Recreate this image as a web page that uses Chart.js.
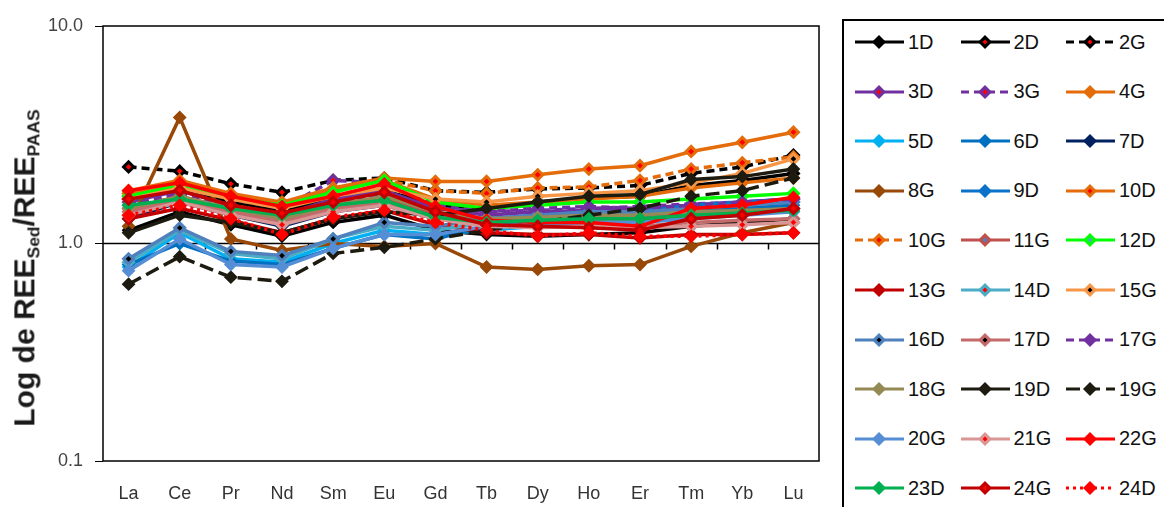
<!DOCTYPE html>
<html>
<head>
<meta charset="utf-8">
<script src="https://cdn.jsdelivr.net/npm/chart.js@4.4.0/dist/chart.umd.min.js"></script>
<style>
html, body { margin: 0; padding: 0; background: #fff; overflow: hidden; width: 1164px; height: 507px; font-family: Arial, "Liberation Sans", sans-serif; }
#wrap { position: absolute; left: 0; top: 0; width: 842px; height: 507px; }
#ytitle { position: absolute; left: 26px; top: 268px; transform: translate(-50%, -50%) rotate(-90deg); white-space: nowrap; font-weight: bold; font-size: 30px; color: #1a1a1a; }
#ytitle sub { font-size: 58%; vertical-align: -0.3em; }
#leyenda { position: absolute; left: 842px; top: 19px; width: 340px; height: 510px; border: 2px solid #000; box-sizing: border-box; }
.item { position: absolute; display: flex; align-items: center; font-size: 20px; color: #111; height: 20px; }
.item svg { margin-right: 4px; }
</style>
</head>
<body>
<div id="wrap"><canvas id="grafico" width="842" height="507"></canvas></div>
<div id="ytitle">Log de REE<sub>Sed</sub>/REE<sub>PAAS</sub></div>
<div id="leyenda"></div>
<script>
// Elementos de tierras raras (eje X)
const categorias = ['La', 'Ce', 'Pr', 'Nd', 'Sm', 'Eu', 'Gd', 'Tb', 'Dy', 'Ho', 'Er', 'Tm', 'Yb', 'Lu'];
const ticksY = [0.1, 1, 10];

// Valores normalizados a PAAS, uno por muestra
const m1D  = [1.15, 1.40, 1.22, 1.08, 1.25, 1.35, 1.15, 1.10, 1.08, 1.10, 1.12, 1.20, 1.25, 1.30];
const m2D  = [1.60, 1.80, 1.55, 1.42, 1.60, 1.75, 1.50, 1.45, 1.55, 1.62, 1.65, 1.85, 1.95, 2.10];
const m2G  = [2.25, 2.15, 1.88, 1.72, 1.95, 2.00, 1.75, 1.72, 1.78, 1.80, 1.85, 2.10, 2.25, 2.55];
const m3D  = [1.55, 1.75, 1.50, 1.35, 1.60, 1.75, 1.45, 1.35, 1.40, 1.42, 1.45, 1.50, 1.55, 1.60];
const m3G  = [1.65, 1.85, 1.60, 1.45, 1.95, 1.90, 1.50, 1.40, 1.42, 1.45, 1.48, 1.52, 1.55, 1.60];
const m4G  = [1.70, 1.90, 1.65, 1.50, 1.75, 1.95, 1.60, 1.50, 1.55, 1.60, 1.65, 1.80, 1.90, 2.00];
const m5D  = [0.78, 1.12, 0.85, 0.82, 1.00, 1.15, 1.10, 1.15, 1.20, 1.25, 1.25, 1.35, 1.35, 1.45];
const m6D  = [0.80, 1.00, 0.83, 0.80, 0.95, 1.10, 1.05, 1.20, 1.25, 1.30, 1.30, 1.40, 1.45, 1.50];
const m7D  = [1.30, 1.55, 1.35, 1.20, 1.40, 1.50, 1.30, 1.25, 1.30, 1.35, 1.35, 1.45, 1.50, 1.55];
const m8G  = [1.20, 3.80, 1.05, 0.93, 1.00, 0.97, 1.00, 0.78, 0.76, 0.79, 0.80, 0.97, 1.12, 1.25];
const m9D  = [1.35, 1.60, 1.40, 1.25, 1.45, 1.55, 1.35, 1.30, 1.35, 1.40, 1.40, 1.50, 1.55, 1.60];
const m10D = [1.75, 1.95, 1.70, 1.55, 1.80, 2.00, 1.93, 1.93, 2.07, 2.20, 2.28, 2.65, 2.92, 3.25];
const m10G = [1.70, 1.90, 1.65, 1.50, 1.75, 1.95, 1.75, 1.70, 1.80, 1.82, 1.95, 2.20, 2.35, 2.50];
const m11G = [1.45, 1.65, 1.45, 1.30, 1.50, 1.60, 1.35, 1.25, 1.30, 1.30, 1.30, 1.35, 1.40, 1.45];
const m12D = [1.65, 1.85, 1.62, 1.50, 1.72, 1.95, 1.55, 1.45, 1.50, 1.55, 1.55, 1.60, 1.65, 1.70];
const m13G = [1.30, 1.45, 1.28, 1.12, 1.30, 1.42, 1.22, 1.12, 1.10, 1.10, 1.06, 1.10, 1.10, 1.12];
const m14D = [0.82, 1.15, 0.90, 0.85, 1.05, 1.20, 1.15, 1.25, 1.30, 1.35, 1.35, 1.45, 1.50, 1.55];
const m15G = [1.60, 1.80, 1.60, 1.45, 1.65, 1.80, 1.60, 1.55, 1.65, 1.70, 1.75, 1.90, 2.10, 2.45];
const m16D = [0.85, 1.18, 0.92, 0.88, 1.05, 1.25, 1.20, 1.30, 1.35, 1.40, 1.40, 1.45, 1.50, 1.55];
const m17D = [1.40, 1.60, 1.40, 1.25, 1.45, 1.55, 1.30, 1.20, 1.22, 1.22, 1.20, 1.25, 1.28, 1.30];
const m17G = [1.50, 1.70, 1.50, 1.35, 1.55, 1.70, 1.45, 1.40, 1.45, 1.48, 1.45, 1.50, 1.55, 1.60];
const m18G = [1.45, 1.65, 1.45, 1.30, 1.50, 1.65, 1.40, 1.30, 1.32, 1.35, 1.35, 1.40, 1.42, 1.45];
const m19D = [1.12, 1.35, 1.25, 1.12, 1.30, 1.40, 1.35, 1.45, 1.55, 1.65, 1.68, 1.97, 2.03, 2.20];
const m19G = [0.65, 0.87, 0.70, 0.67, 0.90, 0.96, 1.05, 1.15, 1.25, 1.35, 1.45, 1.65, 1.75, 2.00];
const m20G = [0.75, 1.05, 0.80, 0.78, 0.95, 1.10, 1.10, 1.20, 1.22, 1.25, 1.25, 1.30, 1.35, 1.40];
const m21G = [1.35, 1.55, 1.35, 1.22, 1.40, 1.50, 1.30, 1.20, 1.18, 1.20, 1.18, 1.20, 1.22, 1.25];
const m22G = [1.75, 1.90, 1.65, 1.48, 1.65, 1.88, 1.48, 1.28, 1.25, 1.25, 1.20, 1.45, 1.50, 1.63];
const m23D = [1.50, 1.60, 1.45, 1.35, 1.50, 1.58, 1.32, 1.25, 1.28, 1.30, 1.30, 1.35, 1.38, 1.42];
const m24G = [1.60, 1.75, 1.50, 1.38, 1.55, 1.72, 1.40, 1.22, 1.20, 1.18, 1.15, 1.30, 1.35, 1.45];
const m24D = [1.35, 1.50, 1.30, 1.10, 1.32, 1.42, 1.25, 1.15, 1.08, 1.12, 1.08, 1.08, 1.10, 1.12];

// Muestras en el orden de la leyenda
const muestras = ['1D', '2D', '2G', '3D', '3G', '4G', '5D', '6D', '7D', '8G', '9D', '10D', '10G', '11G', '12D',
                  '13G', '14D', '15G', '16D', '17D', '17G', '18G', '19D', '19G', '20G', '21G', '22G', '23D', '24G', '24D'];
const valores = [m1D, m2D, m2G, m3D, m3G, m4G, m5D, m6D, m7D, m8G, m9D, m10D, m10G, m11G, m12D,
                 m13G, m14D, m15G, m16D, m17D, m17G, m18G, m19D, m19G, m20G, m21G, m22G, m23D, m24G, m24D];

// Estilo de cada serie
const colores = ['#000000', '#000000', '#000000', '#7030A0', '#7030A0', '#E46C0A', '#00B0F0', '#0070C0', '#002060', '#984807',
                 '#0A72C8', '#E46C0A', '#E46C0A', '#C0504D', '#00FF00', '#C00000', '#4BACC6', '#F79646', '#4F81BD', '#C46A6A',
                 '#7030A0', '#948A54', '#1D1B10', '#1D1B10', '#558ED5', '#D99694', '#FF0000', '#00B050', '#C00000', '#FF0000'];
const puntos =  [null, '#FF0000', '#FF0000', '#FF0000', '#FF0000', null, null, null, null, null,
                 null, '#FF0000', '#FF0000', '#4F81BD', '#4BACC6', null, '#FF0000', '#000000', '#000000', '#000000',
                 null, null, null, null, null, '#FF0000', null, null, '#FF0000', null];
const trazos = ['', '', 'g', '', 'g', '', '', '', '', '', '', '', 'g', '', '', '', '', '', '', '', 'g', '', '', 'l', '', '', '', '', '', 'p'];
const patrones = { '': [], g: [8, 5], l: [14, 6], p: [3, 4] };

const conjuntos = muestras.map((m, i) => ({
    label: m,
    data: valores[i],
    borderColor: colores[i],
    backgroundColor: colores[i],
    borderWidth: 3.5,
    borderDash: patrones[trazos[i]],
    pointStyle: 'rectRot',
    pointRadius: puntos[i] ? 5 : 5.5,
    pointBorderWidth: puntos[i] ? 3 : 2,
    pointBackgroundColor: puntos[i] || colores[i],
    pointBorderColor: colores[i],
    order: muestras.length - i,
    tension: 0
}));

// Marco del área, línea en 1.0 con marcas de categoría
const marco = {
    id: 'marco',
    beforeDatasetsDraw(chart) {
        const { ctx, chartArea: a, scales } = chart;
        const y1 = scales.y.getPixelForValue(1);
        ctx.save();
        ctx.strokeStyle = '#000';
        ctx.lineWidth = 1.5;
        ctx.strokeRect(a.left, a.top, a.right - a.left, a.bottom - a.top);
        ctx.beginPath();
        ctx.moveTo(a.left, y1);
        ctx.lineTo(a.right, y1);
        const paso = (a.right - a.left) / categorias.length;
        for (let i = 1; i < categorias.length; i++) {
            const x = Math.round(a.left + paso * i) + 0.5;
            ctx.moveTo(x, y1);
            ctx.lineTo(x, y1 + 6);
        }
        ctx.stroke();
        ctx.restore();
    }
};

Chart.defaults.font.family = 'Arial, "Liberation Sans", sans-serif';

const grafico = new Chart(document.getElementById('grafico'), {
    type: 'line',
    data: { labels: categorias, datasets: conjuntos },
    options: {
        responsive: false,
        animation: false,
        layout: { padding: { left: 0, top: 26, right: 23, bottom: 0 } },
        plugins: { legend: { display: false }, tooltip: { enabled: false } },
        scales: {
            x: {
                offset: true,
                grid: { display: false, drawTicks: false },
                border: { display: false },
                ticks: { color: '#333', font: { size: 18 }, padding: 22, maxRotation: 0 },
                afterFit(s) { s.height = 46; }
            },
            y: {
                type: 'logarithmic',
                min: 0.1,
                max: 10,
                afterBuildTicks(s) { s.ticks = ticksY.map(v => ({ value: v })); },
                grid: { drawOnChartArea: false, drawTicks: true, tickLength: 8, color: '#000' },
                border: { display: false },
                ticks: { color: '#444', font: { size: 18 }, padding: 12, callback: v => Number(v).toFixed(1) },
                afterFit(s) { s.width = 103; }
            }
        }
    },
    plugins: [marco]
});

// Leyenda en tres columnas, construida a partir de las series
const leyenda = document.getElementById('leyenda');
grafico.data.datasets.forEach((d, i) => {
    const fila = Math.floor(i / 3), col = i % 3;
    const div = document.createElement('div');
    div.className = 'item';
    div.style.left = (11 + col * 105.5) + 'px';
    div.style.top = (11 + fila * 49.6) + 'px';
    const dash = d.borderDash.length ? ` stroke-dasharray="${d.borderDash.join(' ')}"` : '';
    const punto = puntos[i] ? `<polygon points="24,5.5 26.5,8 24,10.5 21.5,8" fill="${puntos[i]}"/>` : '';
    div.innerHTML = `<svg width="49" height="16"><line x1="0" y1="8" x2="49" y2="8" stroke="${d.borderColor}" stroke-width="3"${dash}/>` +
        `<polygon points="24,1 31,8 24,15 17,8" fill="${d.borderColor}"/>${punto}</svg><span>${d.label}</span>`;
    leyenda.appendChild(div);
});
</script>
</body>
</html>
